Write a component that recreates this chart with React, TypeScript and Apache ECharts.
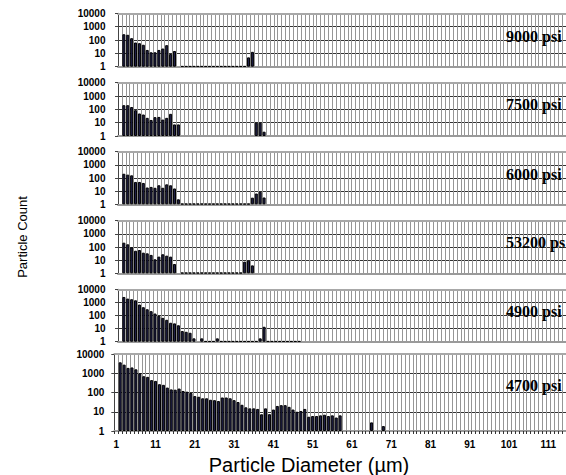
import React, { useEffect, useRef } from "react";
import * as echarts from "echarts";

// Category labels: particle diameter bins (µm)
const CATEGORIES: string[] = Array.from({ length: 115 }, (_, i) => String(i + 1));

// Panel labels (the fourth one is cut by the picture's edge in the reference)
const LABELS = ["9000 psi", "7500 psi", "6000 psi", "53200 ps", "4900 psi", "4700 psi"];

// Particle counts per diameter bin (null = no particles)
const P9000 = [
  null, 270, 245, 137, 65, 58, 44, 18, 12, 12, 18, 23, 41, 9, 15, null,
  1.1, 1.1, 1.1, 1.1, 1.1, 1.1, 1.1, 1.1, 1.1, 1.1, 1.1, 1.1, 1.1, 1.1, 1.1, 1.1, 1.1,
  5, 13,
];
const P7500 = [
  null, 205, 205, 150, 87, 49, 41, 23, 16, 26, 27, 17, 23, 46, 7.4, 7.4,
  null, null, null, null, null, null, null, null, null, null, null, null, null, null, null, null, null, null, null,
  10, 10, 2.1,
];
const P6000 = [
  null, 210, 180, 160, 50, 50, 42, 19, 21, 18, 28, 18, 33, 28, 16, 2.4,
  1.1, 1.1, 1.1, 1.1, 1.1, 1.1, 1.1, 1.1, 1.1, 1.1, 1.1, 1.1, 1.1, 1.1, 1.1, 1.1, 1.1, 1.1,
  3.2, 6.6, 9, 3.3,
];
const P53200 = [
  null, 213, 160, 94, 52, 59, 37, 33, 25, 11.6, 18.5, 28, 22, 18.5, 5.1, null,
  1.1, 1.1, 1.1, 1.1, 1.1, 1.1, 1.1, 1.1, 1.1, 1.1, 1.1, 1.1, 1.1, 1.1, 1.1, 1.1,
  7.7, 9.2, 4,
];
const P4900 = [
  null, 2600, 1950, 1750, 1450, 690, 430, 300, 214, 141, 94, 66, 47, 28, 25, 18, 6.5, 5.7, 4.8, 1.8,
  null, 1.8, 1.1, 1.1, 1.1, 1.8,
  1.1, 1.1, 1.1, 1.1, 1.1, 1.1, 1.1, 1.1, 1.1, 1.1,
  1.8, 13.8,
  1.1, 1.1, 1.1, 1.1, 1.1, 1.1, 1.1, 1.1, 1.1,
];
const P4700 = [
  null, 3700, 2800, 1900, 2000, 1600, 1000, 700, 650, 440, 400, 270, 250, 180, 145, 140, 160, 120, 110, 95,
  65, 60, 50, 50, 42, 40, 36, 55, 55, 50, 40, 32, 23, 17, 15, 15, 14, 7.4, 15, 7.5,
  13, 20, 22, 22, 18, 13, 10, 11, 14, 5.5, 6, 6, 6.5, 7, 6, 6.5, 5, 6.5,
  null, null, null, null, null, null, null, 2.8, null, null, 1.8,
];

const SERIES = [P9000, P7500, P6000, P53200, P4900, P4700];

export default function App() {
  const ref = useRef<HTMLDivElement>(null);
  useEffect(() => {
    if (!ref.current) return;
    const chart = echarts.init(ref.current, null, { renderer: "svg" });
    const layout = [
      { top: 13.3, height: 53.4, left: 118, labelY: 36.7 },
      { top: 82.7, height: 53.3, left: 118, labelY: 104.3 },
      { top: 151.7, height: 52.6, left: 118, labelY: 174.3 },
      { top: 220.7, height: 52.6, left: 118, labelY: 242.7 },
      { top: 289.3, height: 52.4, left: 118, labelY: 311 },
      { top: 354, height: 77, left: 114.3, labelY: 385 },
    ];
    const font = "Liberation Sans";
    const xAxes: any[] = [];
    layout.forEach((p, i) => {
      xAxes.push({
        type: "category",
        gridIndex: i,
        data: CATEGORIES,
        boundaryGap: true,
        axisLine: { show: true, lineStyle: { color: "#9a9a9a", width: 2 } },
        axisTick: { show: i === 5, interval: 0, length: 3, lineStyle: { color: "#333" } },
        axisLabel: {
          show: i === 5,
          interval: 9,
          fontSize: 10,
          fontWeight: "bold",
          fontFamily: font,
          color: "#000",
          margin: 8,
        },
        splitLine: { show: true, interval: 0, lineStyle: { color: "#969696", width: 1 } },
      });
    });
    layout.forEach((p, i) => {
      xAxes.push({
        type: "category",
        gridIndex: i,
        position: "top",
        data: CATEGORIES,
        axisLine: { show: true, lineStyle: { color: "#a8a8a8", width: 2 } },
        axisTick: { show: false },
        axisLabel: { show: false },
        splitLine: { show: false },
      });
    });
    const option: any = {
      animation: false,
      backgroundColor: "#fff",
      grid: layout.map((p) => ({ left: p.left, top: p.top, height: p.height, right: 0 })),
      xAxis: xAxes,
      yAxis: layout.map((p, i) => ({
        type: "log",
        logBase: 10,
        min: 1,
        max: 10000,
        gridIndex: i,
        axisLine: { show: true, lineStyle: { color: "#444", width: 1 } },
        axisTick: { show: true, length: 3, lineStyle: { color: "#444" } },
        axisLabel: {
          fontSize: 10,
          fontWeight: "bold",
          fontFamily: font,
          color: "#000",
          margin: i === 5 ? 10 : 12.5,
          formatter: (v: number) => String(Math.round(v)),
        },
        splitLine: {
          show: true,
          showMinLine: false,
          showMaxLine: false,
          lineStyle: { color: "#333", width: 1 },
        },
      })),
      series: SERIES.map((d, i) => ({
        type: "bar",
        xAxisIndex: i,
        yAxisIndex: i,
        data: d,
        barCategoryGap: "22%",
        silent: true,
        itemStyle: { color: "#1e1e48", borderColor: "#000", borderWidth: 1 },
      })),
      graphic: [
        ...layout.map((p, i) => ({
          type: "text",
          x: 506,
          y: p.labelY,
          z: 100,
          style: {
            text: LABELS[i],
            font: 'bold 16px "Liberation Serif"',
            fill: "#000",
            textAlign: "left",
            textVerticalAlign: "middle",
            align: "left",
            verticalAlign: "middle",
          },
        })),
        {
          type: "text",
          x: 22,
          y: 237,
          rotation: Math.PI / 2,
          style: {
            text: "Particle Count",
            font: '13px "Liberation Sans"',
            fill: "#000",
            textAlign: "center",
            textVerticalAlign: "middle",
            align: "center",
            verticalAlign: "middle",
          },
        },
        {
          type: "text",
          x: 309,
          y: 465,
          style: {
            text: "Particle Diameter (µm)",
            font: '20px "Liberation Sans"',
            fill: "#000",
            textAlign: "center",
            textVerticalAlign: "middle",
            align: "center",
            verticalAlign: "middle",
          },
        },
      ],
    };
    chart.setOption(option);
    return () => chart.dispose();
  }, []);
  return (
    <div
      ref={ref}
      style={{ position: "absolute", left: 0, top: 0, width: 566, height: 475, background: "#fff" }}
    />
  );
}
